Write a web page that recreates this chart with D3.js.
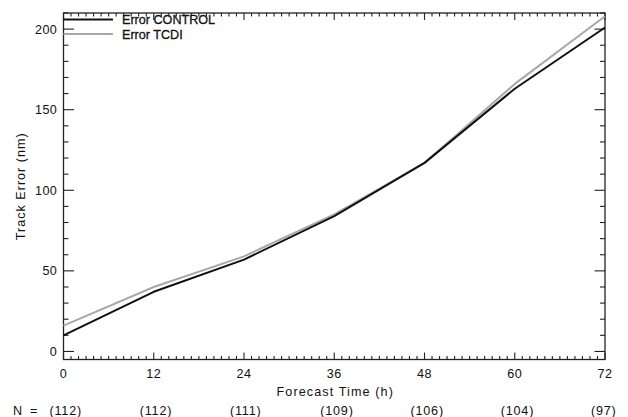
<!DOCTYPE html>
<html>
<head>
<meta charset="utf-8">
<script src="https://cdn.jsdelivr.net/npm/d3@7"></script>
<style>
  html, body { margin: 0; padding: 0; background: #fff; }
  svg { display: block; font-family: "Liberation Sans", Arial, sans-serif; }
  text { fill: #111; }
</style>
</head>
<body>
<svg id="chart" width="628" height="417"></svg>
<script>
// Forecast lead times (h) and mean track errors (nm)
const hours = [0, 12, 24, 36, 48, 60, 72];
const errorControl = [10, 37, 57, 84, 117, 163, 201];
const errorTCDI = [16, 40, 59, 85, 117, 166, 208];
const sampleCounts = [112, 112, 111, 109, 106, 104, 97];
const yTicks = [0, 50, 100, 150, 200];
const seriesNames = ["Error CONTROL", "Error TCDI"];
const seriesColors = ["#111111", "#a8a8a8"];

const svg = d3.select("#chart");
const m = { left: 63.5, right: 605, top: 13, bottom: 359.5 };

const x = d3.scaleLinear().domain([0, 72]).range([m.left, m.right]);
const y = d3.scaleLinear().domain([-5, 210]).range([m.bottom, m.top]);

const axisColor = "#222";
const g = svg.append("g");

// Frame
g.append("rect")
  .attr("x", m.left).attr("y", m.top)
  .attr("width", m.right - m.left).attr("height", m.bottom - m.top)
  .attr("fill", "none").attr("stroke", axisColor).attr("stroke-width", 1.3);

// x ticks: majors every 12 h, minors every 1 h, on bottom and top
d3.range(0, 73, 1).forEach(t => {
  const major = t % 12 === 0;
  const len = major ? 7 : 3.5;
  g.append("line").attr("x1", x(t)).attr("x2", x(t))
    .attr("y1", m.bottom).attr("y2", m.bottom - len)
    .attr("stroke", axisColor).attr("stroke-width", 1.1);
  g.append("line").attr("x1", x(t)).attr("x2", x(t))
    .attr("y1", m.top).attr("y2", m.top + len)
    .attr("stroke", axisColor).attr("stroke-width", 1.1);
});

// y ticks: majors every 50, minors every 10, on left and right
d3.range(0, 211, 10).forEach(v => {
  const major = v % 50 === 0;
  const len = major ? 10.5 : 5;
  g.append("line").attr("x1", m.left).attr("x2", m.left + len)
    .attr("y1", y(v)).attr("y2", y(v))
    .attr("stroke", axisColor).attr("stroke-width", 1.1);
  g.append("line").attr("x1", m.right).attr("x2", m.right - len)
    .attr("y1", y(v)).attr("y2", y(v))
    .attr("stroke", axisColor).attr("stroke-width", 1.1);
});

// Tick labels
const fs = 12.6;
g.selectAll(".xl").data(hours).join("text")
  .attr("x", d => x(d)).attr("y", 377.5)
  .attr("text-anchor", "middle").attr("font-size", fs)
  .attr("letter-spacing", 0.6)
  .text(d => d);

g.selectAll(".yl").data(yTicks).join("text")
  .attr("x", 57).attr("y", d => y(d) + 4.5)
  .attr("text-anchor", "end").attr("font-size", fs)
  .attr("letter-spacing", 0.3)
  .text(d => d);

// Axis titles
g.append("text").attr("x", (m.left + m.right) / 2 + 1).attr("y", 395.5)
  .attr("text-anchor", "middle").attr("font-size", fs)
  .attr("letter-spacing", 1.1)
  .text("Forecast Time (h)");

g.append("text")
  .attr("transform", `translate(24.5,${(m.top + m.bottom) / 2}) rotate(-90)`)
  .attr("text-anchor", "middle").attr("font-size", fs)
  .attr("letter-spacing", 1.0)
  .text("Track Error (nm)");

// Sample sizes row
g.append("text").attr("x", 13).attr("y", 414.5).attr("font-size", fs)
  .attr("letter-spacing", 2.2)
  .text("N =");
g.selectAll(".nl").data(hours).join("text")
  .attr("x", d => x(d) - 14).attr("y", 414.5)
  .attr("font-size", fs).attr("letter-spacing", 0.8)
  .text((d, i) => `(${sampleCounts[i]})`);

// Series lines
const line = d3.line().x((d, i) => x(hours[i])).y(d => y(d));
[[errorTCDI, seriesColors[1]], [errorControl, seriesColors[0]]].forEach(([vals, color]) => {
  g.append("path").datum(vals)
    .attr("d", line)
    .attr("fill", "none").attr("stroke", color)
    .attr("stroke-width", 2).attr("stroke-linejoin", "round");
});

// Legend
const legendY = [19.5, 34];
seriesNames.forEach((name, i) => {
  g.append("line").attr("x1", m.left).attr("x2", 113)
    .attr("y1", legendY[i]).attr("y2", legendY[i])
    .attr("stroke", seriesColors[i]).attr("stroke-width", 2);
  g.append("text").attr("x", 122).attr("y", legendY[i] + 4.5)
    .attr("font-size", fs).attr("stroke", "#111").attr("stroke-width", 0.3)
    .text(name);
});
</script>
</body>
</html>
